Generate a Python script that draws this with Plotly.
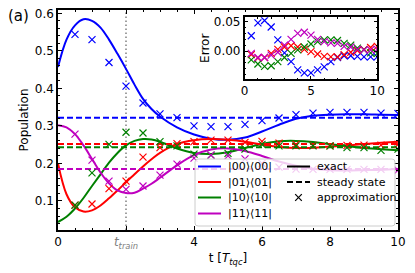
import plotly.graph_objects as go

# ---------------- data ----------------
t_exact = [0, 0.25, 0.5, 0.75, 1.0, 1.25, 1.5, 1.75, 2.0, 2.25, 2.5, 2.75, 3.0, 3.5, 4.0, 4.5,
           5.0, 5.5, 6.0, 6.5, 7.0, 7.5, 8.0, 8.5, 9.0, 9.5, 10.0]
p00_exact = [0.457, 0.530, 0.568, 0.584, 0.580, 0.562, 0.530, 0.492, 0.452, 0.410, 0.372, 0.345,
             0.325, 0.296, 0.277, 0.266, 0.263, 0.269, 0.285, 0.303, 0.319, 0.327, 0.330, 0.331,
             0.331, 0.330, 0.329]
p01_exact = [0.200, 0.118, 0.083, 0.072, 0.075, 0.088, 0.107, 0.128, 0.150, 0.171, 0.192, 0.211,
             0.228, 0.252, 0.262, 0.265, 0.263, 0.258, 0.250, 0.244, 0.241, 0.242, 0.245, 0.248,
             0.252, 0.255, 0.258]
p10_exact = [0.044, 0.058, 0.080, 0.108, 0.140, 0.171, 0.202, 0.228, 0.248, 0.260, 0.265, 0.264,
             0.258, 0.240, 0.228, 0.225, 0.230, 0.241, 0.252, 0.259, 0.260, 0.257, 0.251, 0.246,
             0.241, 0.238, 0.235]
p11_exact = [0.302, 0.296, 0.278, 0.248, 0.212, 0.176, 0.147, 0.128, 0.121, 0.122, 0.133, 0.146,
             0.162, 0.195, 0.222, 0.237, 0.240, 0.233, 0.220, 0.205, 0.194, 0.186, 0.182, 0.181,
             0.182, 0.183, 0.185]

steady = [0.322, 0.252, 0.243, 0.185]

t_approx = [0.5, 1.0, 1.5, 2.0, 2.5, 3.0, 3.5, 4.0, 4.5, 5.0, 5.5, 6.0, 6.5, 7.0, 7.5, 8.0,
            8.5, 9.0, 9.5, 10.0]
p00_approx = [0.544, 0.530, 0.469, 0.406, 0.361, 0.332, 0.322, 0.300, 0.298, 0.298, 0.304, 0.314,
              0.321, 0.330, 0.334, 0.336, 0.336, 0.336, 0.334, 0.333]
p01_approx = [0.089, 0.092, 0.133, 0.153, 0.217, 0.242, 0.253, 0.258, 0.262, 0.262, 0.256, 0.259,
              0.254, 0.251, 0.248, 0.247, 0.248, 0.249, 0.249, 0.251]
p10_approx = [0.089, 0.175, 0.251, 0.283, 0.281, 0.258, 0.247, 0.225, 0.222, 0.227, 0.238, 0.251,
              0.247, 0.247, 0.247, 0.247, 0.242, 0.242, 0.235, 0.238]
p11_approx = [0.278, 0.209, 0.153, 0.131, 0.140, 0.169, 0.198, 0.214, 0.222, 0.220, 0.212, 0.200,
              0.190, 0.185, 0.184, 0.184, 0.184, 0.184, 0.184, 0.182]

err00 = [0.026, 0.048, 0.052, 0.041, 0.019, -0.003, -0.018, -0.032, -0.037, -0.037, -0.032,
         -0.027, -0.018, -0.011, -0.008, -0.008, -0.009, -0.010, -0.010, -0.010]
err01 = [-0.006, -0.012, -0.011, -0.004, 0.003, 0.007, 0.009, 0.007, 0.003, -0.001, -0.005,
         -0.009, -0.010, -0.010, -0.006, -0.002, 0.001, 0.003, 0.006, 0.008]
err10 = [-0.015, -0.022, -0.026, -0.025, -0.018, -0.011, -0.004, 0.002, 0.007, 0.012, 0.016,
         0.019, 0.019, 0.018, 0.013, 0.010, 0.005, 0.002, -0.003, -0.004]
err11 = [-0.004, -0.011, -0.011, -0.007, -0.002, 0.010, 0.020, 0.030, 0.032, 0.027, 0.020,
         0.016, 0.014, 0.013, 0.008, 0.007, 0.003, 0.002, 0.002, 0.003]

labels = ["|00⟩⟨00|", "|01⟩⟨01|", "|10⟩⟨10|", "|11⟩⟨11|"]
style_labels = ["exact", "steady state", "approximation"]
colors = ["#0000ff", "#ff0000", "#008000", "#bf00bf"]
t_train = 2
x_ticks = [0, 2, 4, 6, 8, 10]
x_ticktext = ["0", "<span style='color:#808080'><i>t</i><sub><i>train</i></sub></span>",
              "4", "6", "8", "10"]

# ---------------- figure ----------------
FONT = "DejaVu Sans"
DASH = "6px,3px"
fig = go.Figure()

exacts = [p00_exact, p01_exact, p10_exact, p11_exact]
approxs = [p00_approx, p01_approx, p10_approx, p11_approx]
errs = [err00, err01, err10, err11]

for i in range(4):
    fig.add_trace(go.Scatter(x=t_exact, y=exacts[i], mode="lines", name=labels[i],
                             showlegend=False,
                             line=dict(color=colors[i], width=2, shape="spline", smoothing=1.0),
                             xaxis="x", yaxis="y"))
for i in range(4):
    fig.add_trace(go.Scatter(x=[t_exact[0], t_exact[-1]], y=[steady[i], steady[i]], mode="lines",
                             showlegend=False,
                             line=dict(color=colors[i], width=2, dash=DASH),
                             xaxis="x", yaxis="y"))
for i in range(4):
    fig.add_trace(go.Scatter(x=t_approx, y=approxs[i], mode="markers", showlegend=False,
                             marker=dict(symbol="x-thin", size=7,
                                         line=dict(color=colors[i], width=1.2)),
                             xaxis="x", yaxis="y"))

# inset
for i in range(4):
    fig.add_trace(go.Scatter(x=t_approx, y=errs[i], mode="markers", showlegend=False,
                             marker=dict(symbol="x-thin", size=7,
                                         line=dict(color=colors[i], width=1.2)),
                             xaxis="x2", yaxis="y2"))

# reference lines
fig.add_shape(type="line", xref="x", yref="y domain", x0=t_train, x1=t_train, y0=0, y1=1,
              line=dict(color="#808080", width=1.5, dash="1.5px,2.5px"), layer="below")
fig.add_shape(type="line", xref="x2 domain", yref="y2", x0=0, x1=1, y0=0, y1=0,
              line=dict(color="#808080", width=1.2, dash="1.5px,2.5px"), layer="below")

# ---------- legend (drawn by hand: two columns inside one frame) ----------
# screen-pixel helpers relative to the plot area (plot area on screen: x 58..398, y 10..230)
W, H, L, T = 340.0, 220.0, 58.0, 10.0
def px(x):
    return (x - L) / W
def py(y):
    return (T + H - y) / H

bx0, bx1, by0, by1 = px(195), px(395), py(226), py(159)
rx, ry = 3 / W, 3 / H
path = (f"M{bx0+rx},{by1} L{bx1-rx},{by1} Q{bx1},{by1} {bx1},{by1-ry} "
        f"L{bx1},{by0+ry} Q{bx1},{by0} {bx1-rx},{by0} L{bx0+rx},{by0} "
        f"Q{bx0},{by0} {bx0},{by0+ry} L{bx0},{by1-ry} Q{bx0},{by1} {bx0+rx},{by1} Z")
fig.add_shape(type="path", xref="paper", yref="paper", path=path,
              fillcolor="rgba(255,255,255,0.8)", line=dict(color="#cccccc", width=1),
              layer="above")

LEG_FS = 11
rows = [166.5, 182.0, 197.5, 213.5]
annotations = []
for i, lab in enumerate(labels):
    fig.add_shape(type="line", xref="paper", yref="paper", x0=px(198), x1=px(221),
                  y0=py(rows[i]), y1=py(rows[i]), line=dict(color=colors[i], width=2),
                  layer="above")
    annotations.append(dict(text=lab, xref="paper", yref="paper", x=px(226), y=py(rows[i]),
                            xanchor="left", yanchor="middle", showarrow=False,
                            font=dict(family=FONT, size=LEG_FS, color="black")))
fig.add_shape(type="line", xref="paper", yref="paper", x0=px(287), x1=px(310),
              y0=py(rows[0]), y1=py(rows[0]), line=dict(color="black", width=2), layer="above")
fig.add_shape(type="line", xref="paper", yref="paper", x0=px(287), x1=px(310),
              y0=py(rows[1]), y1=py(rows[1]), line=dict(color="black", width=2, dash=DASH),
              layer="above")
cx, cy, hs = 298.5, rows[2], 3.3
fig.add_shape(type="line", xref="paper", yref="paper", x0=px(cx - hs), x1=px(cx + hs),
              y0=py(cy - hs), y1=py(cy + hs), line=dict(color="black", width=1.2), layer="above")
fig.add_shape(type="line", xref="paper", yref="paper", x0=px(cx - hs), x1=px(cx + hs),
              y0=py(cy + hs), y1=py(cy - hs), line=dict(color="black", width=1.2), layer="above")
for j, lab in enumerate(style_labels):
    annotations.append(dict(text=lab, xref="paper", yref="paper", x=px(315), y=py(rows[j]),
                            xanchor="left", yanchor="middle", showarrow=False,
                            font=dict(family=FONT, size=LEG_FS, color="black")))

annotations.append(dict(text="(a)", xref="paper", yref="paper", x=px(18), y=py(16),
                        xanchor="center", yanchor="middle", showarrow=False,
                        font=dict(family=FONT, size=15, color="black")))

axis_common = dict(showline=True, linecolor="black", linewidth=1.5, mirror="allticks",
                   ticks="inside", tickcolor="black", tickwidth=1.2, ticklen=4,
                   showgrid=False, zeroline=False, automargin=False,
                   ticklabeloverflow="allow",
                   tickfont=dict(family=FONT, size=12, color="black"))

# the page body has an 8px margin, so the figure is 8px smaller and margins shifted
fig.update_layout(
    width=407, height=265,
    margin=dict(l=50, r=17, t=2, b=43),
    paper_bgcolor="white", plot_bgcolor="white",
    showlegend=False,
    font=dict(family=FONT, size=12, color="black"),
    xaxis=dict(axis_common, range=[0, 10], domain=[0, 1], tickmode="array",
               tickvals=x_ticks, ticktext=x_ticktext,
               minor=dict(dtick=0.5, ticks="inside", ticklen=2, tickcolor="black", tickwidth=1),
               title=dict(text="t [<i>T</i><sub><i>tqc</i></sub>]", standoff=4,
                          font=dict(family=FONT, size=12))),
    yaxis=dict(axis_common, range=[0.0227, 0.6088], domain=[0, 1], dtick=0.1, tick0=0,
               tickformat=".1f",
               minor=dict(dtick=0.02, ticks="inside", ticklen=2, tickcolor="black", tickwidth=1),
               title=dict(text="Population", standoff=4, font=dict(family=FONT, size=12))),
    xaxis2=dict(axis_common, range=[0, 10], domain=[0.549, 0.939], anchor="y2", dtick=5,
                minor=dict(dtick=1, ticks="inside", ticklen=2, tickcolor="black", tickwidth=1)),
    yaxis2=dict(axis_common, range=[-0.048, 0.0575], domain=[0.685, 0.967], anchor="x2",
                dtick=0.05, tick0=0, tickformat=".2f",
                minor=dict(dtick=0.01, ticks="inside", ticklen=2, tickcolor="black", tickwidth=1),
                title=dict(text="Error", standoff=2, font=dict(family=FONT, size=12))),
    annotations=annotations,
)

fig.write_html("out.html")
